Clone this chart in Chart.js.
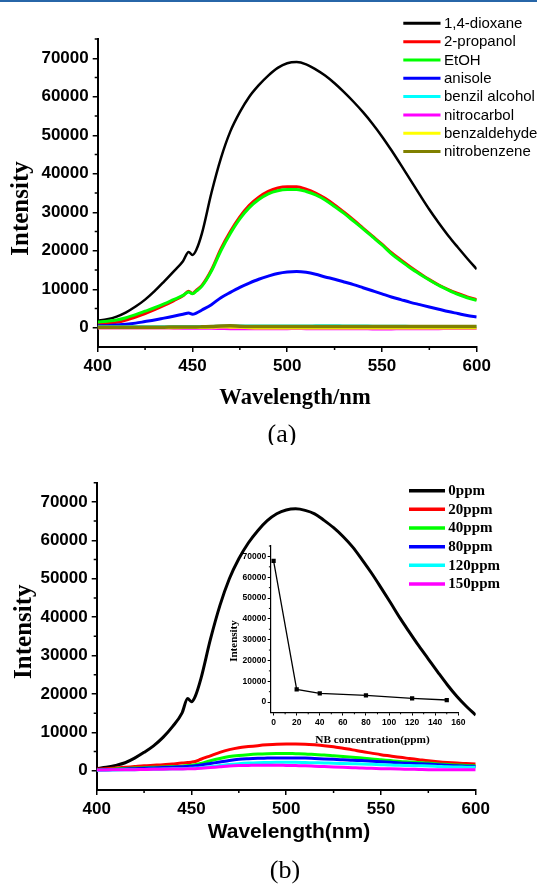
<!DOCTYPE html>
<html>
<head>
<meta charset="utf-8">
<title>Fluorescence emission spectra</title>
<script src="https://cdn.jsdelivr.net/npm/chart.js@4.4.0/dist/chart.umd.min.js"></script>
<style>
  html, body { margin: 0; padding: 0; background: #fff; }
  #page { position: relative; width: 537px; height: 886px; overflow: hidden; background: #fff; }
  #rule { position: absolute; left: 0; top: 0; width: 537px; height: 2px; background: #2766a8; }
  canvas { position: absolute; }
  #cA { left: 0; top: 0; }
  #cB { left: 0; top: 445px; }
  #cI { left: 215px; top: 535px; }
</style>
</head>
<body>
<div id="page">
  <canvas id="cA" width="537" height="445"></canvas>
  <canvas id="cB" width="537" height="441"></canvas>
  <canvas id="cI" width="260" height="215"></canvas>
  <div id="rule"></div>
</div>
<script>
// ---- shared wavelength grid (nm) ----
const wavelength = [400,405,410,415,420,425,430,435,440,445,448,450,452,455,460,465,470,475,480,485,490,495,500,505,510,515,520,525,530,535,540,545,550,555,560,565,570,575,580,585,590,595,600];

// ---- panel (a): emission in different solvents ----
const solventNames = ['1,4-dioxane','2-propanol','EtOH','anisole','benzil alcohol','nitrocarbol','benzaldehyde','nitrobenzene'];
const solventColors = ['#000000','#ff0000','#00ff00','#0000ff','#00ffff','#ff00ff','#ffff00','#808000'];
const dioxane = [1800,2200,2900,4000,5500,7300,9500,12000,14600,17300,19700,18900,20200,24500,35000,44000,51000,56000,60000,63000,65500,67500,68700,69000,68400,67100,65500,63500,61200,58700,56000,53000,49700,46100,42300,38400,34500,30700,27200,23900,20900,18000,15200];
const propanol = [900,1100,1400,2000,2800,3700,4700,5800,7000,8300,9500,8900,9700,11000,15000,20500,25000,28800,31800,33900,35400,36300,36600,36600,36000,35000,33600,31900,30000,28000,25900,23800,21700,19500,17600,15800,14100,12500,11100,9900,8900,8000,7300];
const ethanol = [1500,1700,2000,2600,3400,4300,5200,6200,7300,8400,9300,8800,9500,10800,14700,20000,24500,28300,31200,33300,34800,35600,35900,35900,35400,34500,33200,31500,29700,27700,25700,23600,21500,19200,17300,15500,13900,12400,11000,9800,8700,7800,7100];
const anisole = [500,550,700,900,1200,1600,2000,2500,3000,3500,3800,3500,3800,4600,6000,7800,9200,10500,11600,12600,13400,14100,14500,14600,14400,13900,13200,12600,11900,11200,10400,9600,8800,8000,7300,6600,6000,5400,4800,4200,3700,3200,2800];
const benzilAlcohol = [250,250,250,250,250,250,250,250,300,300,300,300,300,300,350,400,450,450,450,450,450,450,450,450,450,500,550,550,450,450,450,400,400,400,400,350,350,350,350,300,300,300,300];
const nitrocarbol = [-50,-50,-50,-50,-50,-50,-50,-50,-100,-100,-100,-100,-100,-150,-150,-200,-250,-250,-250,-250,-250,-250,-250,-200,-250,-250,-250,-250,-250,-250,-250,-300,-300,-300,-250,-250,-250,-250,-250,-200,-200,-200,-200];
const benzaldehyde = [0,0,0,0,0,0,0,0,0,50,50,50,50,50,100,200,150,100,0,-50,-50,-50,-50,-50,-50,-50,-50,-50,-50,-50,-50,-50,-50,-50,-50,-50,-50,-50,-50,-50,-50,-50,-50];
const nitrobenzene = [150,150,150,150,150,150,150,150,200,200,200,200,200,250,300,450,500,400,350,350,350,350,350,350,350,350,350,350,350,350,350,350,350,350,350,300,300,300,300,300,300,300,300];

// ---- panel (b): emission at different nitrobenzene concentrations ----
const concNames = ['0ppm','20ppm','40ppm','80ppm','120ppm','150ppm'];
const concColors = ['#000000','#ff0000','#00ff00','#0000ff','#00ffff','#ff00ff'];
const ppm0 = [600,900,1400,2100,3300,4800,6500,8700,11500,15000,18800,18000,19400,24000,34200,43000,50000,55200,59300,62500,65100,66900,67900,68200,67800,66900,65200,63300,61000,58300,55000,51500,47700,43800,39800,36100,32500,29100,25700,22400,19400,16800,14500];
const ppm20 = [400,550,700,900,1100,1300,1450,1600,1800,2000,2150,2250,2430,3000,3900,4800,5500,6000,6300,6550,6750,6900,6950,6950,6900,6750,6550,6250,5850,5450,5000,4600,4200,3850,3500,3200,2900,2600,2350,2150,2000,1900,1800];
const ppm40 = [300,350,500,600,700,800,900,1000,1100,1200,1350,1450,1600,1900,2600,3200,3700,4000,4200,4350,4450,4500,4500,4450,4400,4250,4100,3900,3700,3500,3300,3050,2850,2650,2450,2300,2150,2000,1800,1650,1500,1400,1300];
const ppm80 = [200,250,350,450,550,650,750,850,950,1050,1150,1200,1300,1500,1900,2300,2700,3000,3150,3250,3300,3350,3350,3350,3300,3200,3100,3000,2900,2750,2650,2500,2350,2200,2050,1950,1850,1750,1600,1450,1300,1200,1130];
const ppm120 = [100,150,200,250,300,350,400,450,500,550,600,650,700,800,1050,1350,1650,1850,2000,2100,2150,2200,2200,2200,2150,2100,2050,1950,1900,1850,1800,1700,1600,1500,1450,1350,1300,1250,1150,1050,1000,950,900];
const ppm150 = [200,220,250,280,300,350,400,420,450,480,500,520,550,650,850,1050,1250,1350,1400,1450,1450,1450,1400,1350,1300,1200,1100,1000,900,800,700,650,550,500,450,400,350,300,300,250,250,250,250];

// ---- inset: peak intensity versus NB concentration ----
const nbConc = [0,20,40,80,120,150];
const nbIntensity = [67900,6100,4200,3200,1800,1000];

// ---- tick positions ----
const wlMajorTicks = [400,450,500,550,600];
const wlMinorTicks = [425,475,525,575];
const intMajorTicks = [0,10000,20000,30000,40000,50000,60000,70000];
const intMinorTicks = [5000,15000,25000,35000,45000,55000,65000,75000];
const concMajorTicks = [0,20,40,60,80,100,120,140,160];
const concMinorTicks = [10,30,50,70,90,110,130,150];

const SANS = "'Liberation Sans', Arial, sans-serif";
const SERIF = "'Liberation Serif', 'Times New Roman', serif";

const toPoints = ys => wavelength.map((x, i) => ({ x, y: ys[i] }));

function spectrum(label, color, values, width) {
  return {
    label, data: toPoints(values),
    borderColor: color, backgroundColor: color,
    borderWidth: width, pointRadius: 0, fill: false,
    cubicInterpolationMode: 'monotone'
  };
}

// later series are painted over earlier ones
function stackOrder(sets) {
  sets.forEach((d, i) => { d.order = -i; });
  return sets;
}

function axis(o) {
  return {
    type: 'linear', min: o.min, max: o.max,
    afterBuildTicks: s => { s.ticks = o.ticks.map(v => ({ value: v })); },
    afterFit: s => { if (s.isHorizontal()) s.height = o.size; else s.width = o.size; },
    ticks: {
      callback: v => String(v), autoSkip: false, maxRotation: 0,
      color: '#000', padding: o.pad,
      font: { family: SANS, size: o.fontSize, weight: 'bold' }
    },
    grid: { display: true, drawOnChartArea: false, drawTicks: true, tickLength: o.tick, color: '#000', lineWidth: o.tw },
    border: { display: true, color: '#000', width: o.bw }
  };
}

// short unlabeled ticks between the labeled ones
function minorTicksPlugin(cfg) {
  return {
    id: 'minorTicks',
    afterDraw(chart) {
      const { ctx } = chart;
      const xs = chart.scales.x, ys = chart.scales.y;
      ctx.save();
      ctx.strokeStyle = '#000';
      ctx.lineWidth = cfg.width;
      ctx.beginPath();
      cfg.x.forEach(v => {
        const px = xs.getPixelForValue(v);
        ctx.moveTo(px, xs.top); ctx.lineTo(px, xs.top + cfg.length);
      });
      cfg.y.forEach(v => {
        const py = ys.getPixelForValue(v);
        ctx.moveTo(ys.right, py); ctx.lineTo(ys.right - cfg.length, py);
      });
      ctx.stroke();
      ctx.restore();
    }
  };
}

// line-sample legend listing every dataset
function sideLegendPlugin(cfg) {
  return {
    id: 'sideLegend',
    afterDraw(chart) {
      const { ctx } = chart;
      ctx.save();
      ctx.font = cfg.font;
      ctx.textAlign = 'left';
      ctx.textBaseline = 'middle';
      chart.data.datasets.forEach((d, i) => {
        const y = cfg.y0 + i * cfg.dy;
        ctx.strokeStyle = d.borderColor;
        ctx.lineWidth = cfg.lineWidth;
        ctx.beginPath();
        ctx.moveTo(cfg.x1, y); ctx.lineTo(cfg.x2, y);
        ctx.stroke();
        ctx.fillStyle = '#000';
        ctx.fillText(d.label, cfg.textX, y + 0.5);
      });
      ctx.restore();
    }
  };
}

// axis titles and panel captions
function captionPlugin(items) {
  return {
    id: 'captions',
    afterDraw(chart) {
      const { ctx } = chart;
      items.forEach(it => {
        ctx.save();
        ctx.translate(it.x, it.y);
        if (it.rotate) ctx.rotate(it.rotate * Math.PI / 180);
        ctx.font = it.font;
        ctx.fillStyle = '#000';
        ctx.textAlign = 'center';
        ctx.textBaseline = 'middle';
        ctx.fillText(it.text, 0, 0);
        ctx.restore();
      });
    }
  };
}

const common = {
  responsive: false, animation: false, events: [],
  plugins: { legend: { display: false }, tooltip: { enabled: false } }
};

// ---------- panel (a) ----------
const solventSeries = [dioxane, propanol, ethanol, anisole, benzilAlcohol, nitrocarbol, benzaldehyde, nitrobenzene];
const solventWidths = [2.5, 3, 3, 3, 3, 3, 3, 3.5];
new Chart(document.getElementById('cA'), {
  type: 'line',
  data: {
    datasets: stackOrder(solventSeries.map((vals, i) =>
      spectrum(solventNames[i], solventColors[i], vals, solventWidths[i])))
  },
  options: {
    ...common,
    layout: { padding: { left: 0, right: 60.3, top: 39, bottom: 0 } },
    scales: {
      x: axis({ min: 400, max: 600, ticks: wlMajorTicks, size: 98, fontSize: 17, pad: 4, tick: 5, tw: 1.5, bw: 2 }),
      y: axis({ min: -5000, max: 75000, ticks: intMajorTicks, size: 97.7, fontSize: 17, pad: 4, tick: 5, tw: 1.5, bw: 2 })
    }
  },
  plugins: [
    minorTicksPlugin({ x: wlMinorTicks, y: intMinorTicks, length: 3, width: 1.5 }),
    sideLegendPlugin({ x1: 403.3, x2: 440.5, textX: 444, y0: 23.3, dy: 18.33, lineWidth: 3, font: '15px ' + SANS }),
    captionPlugin([
      { text: 'Intensity', x: 21.5, y: 208.5, rotate: -90, font: 'bold 25px ' + SERIF },
      { text: 'Wavelength/nm', x: 295, y: 398, font: 'bold 22.5px ' + SERIF },
      { text: '(a)', x: 282, y: 435, font: '26px ' + SERIF }
    ])
  ]
});

// ---------- panel (b) ----------
const concSeries = [ppm0, ppm20, ppm40, ppm80, ppm120, ppm150];
new Chart(document.getElementById('cB'), {
  type: 'line',
  data: {
    datasets: stackOrder(concSeries.map((vals, i) =>
      spectrum(concNames[i], concColors[i], vals, 3)))
  },
  options: {
    ...common,
    layout: { padding: { left: 0, right: 61.3, top: 37.7, bottom: 0 } },
    scales: {
      x: axis({ min: 400, max: 600, ticks: wlMajorTicks, size: 96, fontSize: 17, pad: 4, tick: 5, tw: 1.5, bw: 2 }),
      y: axis({ min: -5000, max: 75000, ticks: intMajorTicks, size: 96.7, fontSize: 17, pad: 4, tick: 5, tw: 1.5, bw: 2 })
    }
  },
  plugins: [
    minorTicksPlugin({ x: wlMinorTicks, y: intMinorTicks, length: 3, width: 1.5 }),
    sideLegendPlugin({ x1: 409, x2: 445, textX: 448.3, y0: 45.7, dy: 18.66, lineWidth: 3.5, font: 'bold 15px ' + SERIF }),
    captionPlugin([
      { text: 'Intensity', x: 25, y: 186.7, rotate: -90, font: 'bold 25px ' + SERIF },
      { text: 'Wavelength(nm)', x: 289, y: 387, font: 'bold 21px ' + SANS },
      { text: '(b)', x: 285, y: 426, font: '26px ' + SERIF }
    ])
  ]
});

// ---------- inset ----------
new Chart(document.getElementById('cI'), {
  type: 'line',
  data: {
    datasets: [{
      label: 'NB',
      data: nbConc.map((x, i) => ({ x, y: nbIntensity[i] })),
      borderColor: '#000', backgroundColor: '#000', borderWidth: 1.3,
      pointStyle: 'rect', pointRadius: 3, pointBorderWidth: 0, tension: 0
    }]
  },
  options: {
    ...common,
    layout: { padding: { left: 0, right: 16.7, top: 11, bottom: 0 } },
    scales: {
      x: axis({ min: -2.5, max: 160, ticks: concMajorTicks, size: 37.5, fontSize: 8.5, pad: 2, tick: 3, tw: 1, bw: 1.2 }),
      y: axis({ min: -5000, max: 75000, ticks: intMajorTicks, size: 55.7, fontSize: 8.5, pad: 1.5, tick: 3, tw: 1, bw: 1.2 })
    }
  },
  plugins: [
    minorTicksPlugin({ x: concMinorTicks, y: intMinorTicks, length: 1.8, width: 1 }),
    captionPlugin([
      { text: 'Intensity', x: 19, y: 106, rotate: -90, font: 'bold 11px ' + SERIF },
      { text: 'NB concentration(ppm)', x: 157.5, y: 205, font: 'bold 11.3px ' + SERIF }
    ])
  ]
});
</script>
</body>
</html>
